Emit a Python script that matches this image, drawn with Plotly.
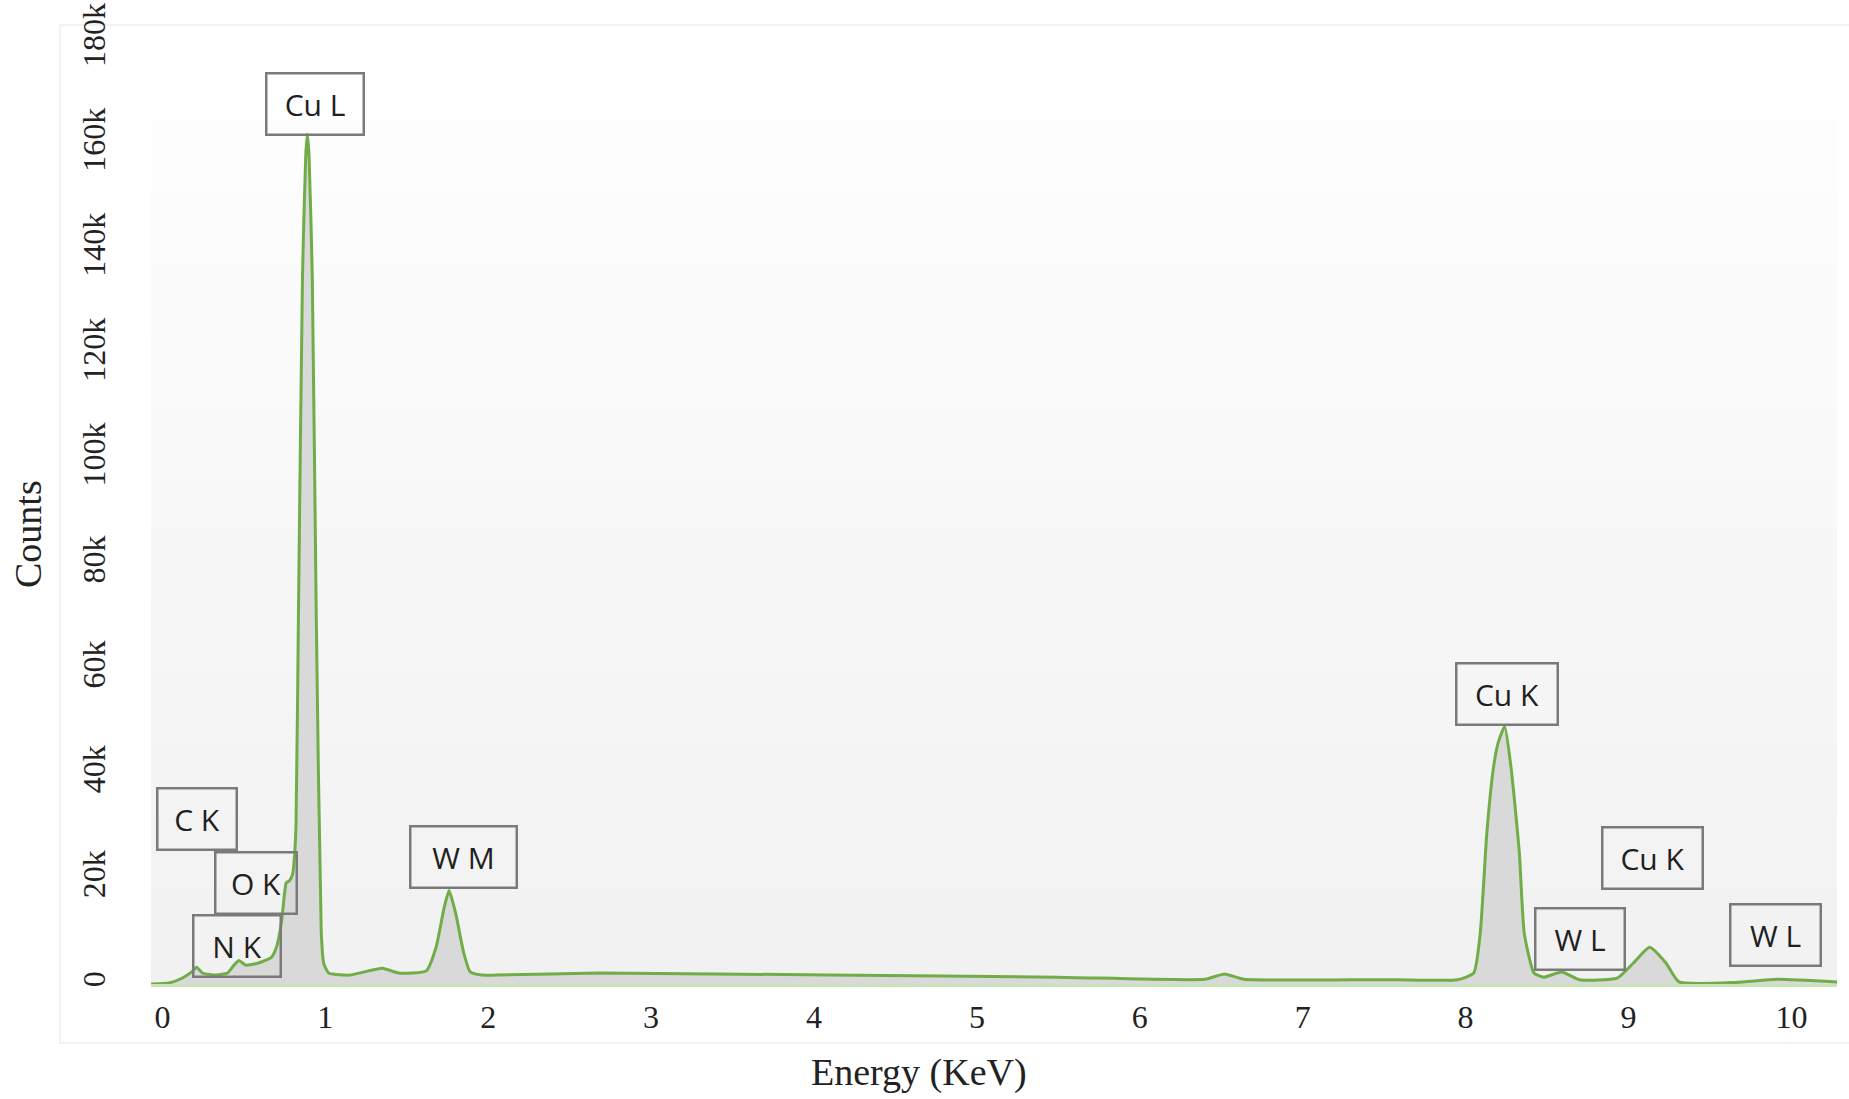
import plotly.graph_objects as go

# EDS spectrum (energy in keV, counts)
energy = [-0.07, 0.04, 0.12, 0.18, 0.21, 0.245, 0.33, 0.40, 0.44, 0.47, 0.51, 0.59, 0.67, 0.70,
          0.73, 0.75, 0.76, 0.78, 0.80, 0.81, 0.82, 0.835, 0.86, 0.88, 0.89, 0.90, 0.92, 0.945,
          0.975, 0.99, 1.02, 1.15, 1.35, 1.45, 1.62, 1.68, 1.73, 1.76, 1.80, 1.85, 1.89, 1.96,
          2.05, 2.68, 4.09, 5.49, 6.40, 6.52, 6.64, 7.30, 7.58, 7.95, 8.05, 8.09, 8.13, 8.17,
          8.20, 8.24, 8.28, 8.33, 8.36, 8.42, 8.48, 8.59, 8.70, 8.93, 9.03, 9.13, 9.23, 9.31,
          9.66, 9.91, 10.28]
counts = [0, 200, 1100, 2300, 3200, 2100, 1700, 2100, 3600, 4500, 3600, 4000, 5100, 7000,
          11600, 17300, 19300, 19700, 21000, 24000, 30000, 70000, 135000, 158000, 162000, 158000, 135000, 69000,
          10000, 4000, 2100, 1700, 3000, 2100, 2500, 7000, 14600, 17800, 13500, 5900, 2300, 1700,
          1700, 2100, 1700, 1300, 900, 1900, 900, 800, 800, 800, 2100, 9700, 28600, 41000,
          46000, 49100, 41000, 25000, 9700, 2100, 1300, 2300, 800, 1100, 4000, 7000, 4000, 400,
          300, 900, 400]

# peak labels
peak_labels = ["Cu L", "Cu K", "C K", "O K", "N K", "W M", "W L", "Cu K", "W L"]
label_x = [0.9375, 8.254, 0.214, 0.576, 0.46, 1.847, 8.70, 9.145, 9.905]
label_y = [167700, 55300, 31400, 19300, 7200, 24300, 8500, 24000, 9300]
box_w = [100, 104, 82, 84, 90, 109, 92, 103, 93]

x_ticks = list(range(0, 11))
y_ticks = [0, 20000, 40000, 60000, 80000, 100000, 120000, 140000, 160000, 180000]
y_ticktext = ["0", "20k", "40k", "60k", "80k", "100k", "120k", "140k", "160k", "180k"]

W, H = 1849, 1099
L, R, T, B = 151, 12, 24, 115

fig = go.Figure()

fig.add_trace(go.Scatter(
    x=energy, y=counts,
    mode="lines",
    line=dict(color="rgb(112,173,71)", width=3, shape="spline", smoothing=0.5),
    fill="tozeroy",
    fillcolor="rgb(217,217,217)",
    hoverinfo="x+y",
    showlegend=False,
))

# plot area background: white at the top fading to light grey
shapes = []
n_bands = 40
for i in range(n_bands):
    g = round(255 - 14 * (i + 0.5) / n_bands)
    shapes.append(dict(
        type="rect", xref="x domain", yref="y domain", layer="below",
        x0=0, x1=1, y0=1 - (i + 1) / n_bands, y1=1 - i / n_bands,
        fillcolor=f"rgb({g},{g},{g})", line=dict(width=0),
    ))

# faint outer frame of the original chart
pw = W - L - R
ph = H - T - B
shapes.append(dict(
    type="rect", xref="paper", yref="paper", layer="below",
    x0=(60 - L) / pw, x1=1.02, y0=(H - B - 1043) / ph, y1=(H - B - 25) / ph,
    line=dict(color="#eeeeee", width=1.5), fillcolor="rgba(0,0,0,0)",
))

annotations = []
for txt, xx, yy, bw in zip(peak_labels, label_x, label_y, box_w):
    annotations.append(dict(
        x=xx, y=yy, xref="x", yref="y", text=txt, showarrow=False,
        font=dict(family="Open Sans", size=30, color="#1f1f1f"),
        bordercolor="#7a7a7a", borderwidth=2.5, borderpad=0,
        width=bw - 5, height=59, align="center", valign="middle",
        bgcolor="rgba(0,0,0,0)",
    ))

annotations.append(dict(
    text="Energy (KeV)", xref="paper", yref="paper", x=(919 - L) / pw, y=0,
    yshift=-88, xanchor="center", yanchor="middle", showarrow=False,
    font=dict(family="Liberation Serif", size=38, color="#222222"),
))
annotations.append(dict(
    text="Counts", xref="paper", yref="paper", x=0, y=(H - B - 534) / ph,
    xshift=28 - L, xanchor="center", yanchor="middle", textangle=-90, showarrow=False,
    font=dict(family="Liberation Serif", size=38, color="#222222"),
))

fig.update_layout(
    width=W, height=H,
    margin=dict(l=L, r=R, t=T, b=B),
    paper_bgcolor="white",
    plot_bgcolor="white",
    shapes=shapes,
    annotations=annotations,
    xaxis=dict(
        range=[-0.07, 10.28],
        tickvals=x_ticks,
        showgrid=False, zeroline=False, automargin=False,
        showline=True, linecolor="#c9e2b8", linewidth=3,
        ticks="", ticklabelstandoff=3,
        tickfont=dict(family="Liberation Serif", size=32, color="#222222"),
    ),
    yaxis=dict(
        range=[0, 183000],
        tickvals=y_ticks, ticktext=y_ticktext,
        tickangle=-90, automargin=False,
        showgrid=False, zeroline=False, showline=False,
        ticks="", ticklabelstandoff=39, ticklabeloverflow="allow",
        tickfont=dict(family="Liberation Serif", size=32, color="#222222"),
    ),
)

fig.write_html(
    "out.html",
    config={"displayModeBar": False},
    post_script="document.body.style.margin='0';document.body.style.overflow='hidden';",
)
